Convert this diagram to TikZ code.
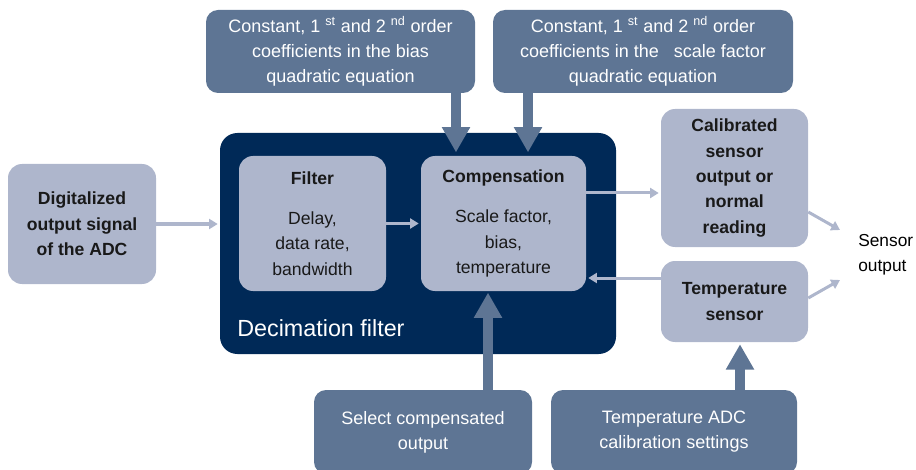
\documentclass[tikz,border=0pt]{standalone}
\usepackage{fontspec}
\setmainfont{Liberation Sans}
\usetikzlibrary{positioning}
\usetikzlibrary{arrows.meta}
\usetikzlibrary{calc}
\definecolor{navy}{RGB}{0,41,87}
\definecolor{slate}{RGB}{94,117,148}
\definecolor{pale}{RGB}{174,182,204}
\tikzset{
    boxs/.style = {rectangle, rounded corners=9pt, fill=slate, align=center, inner sep=0pt, text=white, font=\fontsize{13.5}{18.75}\selectfont},
    boxp/.style = {rectangle, rounded corners=10.5pt, fill=pale, align=center, inner sep=0pt, text=black!90, font=\fontsize{13.2}{19}\selectfont},
    boxn/.style = {rectangle, rounded corners=13pt, fill=navy, inner sep=0pt},
    labn/.style = {anchor=west, inner sep=0pt, text=white, font=\fontsize{17.5}{20}\selectfont},
    labo/.style = {anchor=west, inner sep=0pt, align=left, text=black, font=\fontsize{13}{18.75}\selectfont},
    edgep/.style = {-{Triangle[width=7.5pt,length=6.5pt]}, line width=2.25pt, pale}, % thin
    edges/.style = {-{Triangle[width=20pt,length=19pt]}, line width=7.5pt, slate}, % thick
}

\begin{document}
\begin{tikzpicture}[x=0.75pt,y=-0.75pt]
\useasboundingbox (0,0) rectangle (916,470);

\node[boxs, minimum width=201.75pt, minimum height=62.25pt] at (340.5,51.5) (bias) {Constant, 1 \textsuperscript{st} and 2 \textsuperscript{nd} order\\coefficients in the bias\\quadratic equation};
\node[boxs, minimum width=225pt, minimum height=62.25pt] at (643,51.5) (scalef) {Constant, 1 \textsuperscript{st} and 2 \textsuperscript{nd} order\\coefficients in the \ \ scale factor\\quadratic equation};

\node[boxn, minimum width=297pt, minimum height=165.75pt] at (418,243.5) (decim) {};
\node[labn] at (237,328) (decimlab) {Decimation filter};
\node[boxp, minimum width=110.25pt, minimum height=101.25pt] at (312.5,223.5) (filt) {\textbf{Filter}\\[11pt]Delay,\\data rate,\\bandwidth};
\node[boxp, minimum width=123.75pt, minimum height=101.25pt] at (503.5,223.5) (comp) {\textbf{Compensation}\\[11pt]Scale factor,\\bias,\\temperature};

\node[boxp, minimum width=111pt, minimum height=90pt] at (82,224) (digit) {\textbf{Digitalized}\\\textbf{output signal}\\\textbf{of the ADC}};
\node[boxp, minimum width=110.25pt, minimum height=103.5pt] at (734.5,178) (calib) {\textbf{Calibrated}\\\textbf{sensor}\\\textbf{output or}\\\textbf{normal}\\\textbf{reading}};
\node[boxp, minimum width=110.25pt, minimum height=60.75pt] at (734.5,301.5) (tsens) {\textbf{Temperature}\\\textbf{sensor}};
\node[labo] at (858,254.5) (sensout) {Sensor\\output};

\node[boxs, minimum width=163.5pt, minimum height=63pt] at (423,432) (select) {Select compensated\\output};
\node[boxs, minimum width=184.5pt, minimum height=63pt] at (674,432) (tadc) {Temperature ADC\\calibration settings};

\coordinate (biasin) at ($(comp.north)+(-47.5,0)$);
\coordinate (scalein) at ($(comp.north)+(24.5,0)$);
\coordinate (selin) at ($(comp.south)+(-15.5,0)$);
\coordinate (tadcin) at ($(tsens.south)+(5.5,0)$);
\coordinate (compout) at ($(comp.east)+(0,-30.5)$);
\coordinate (tsout) at ($(tsens.west)+(0,-23.5)$);
\coordinate (outa) at (840,230);
\coordinate (outb) at (840,280);

\draw[edges, shorten >=2.5pt] (bias.south -| biasin) -- (biasin);
\draw[edges, shorten >=2.5pt] (scalef.south -| scalein) -- (scalein);
\draw[edges, shorten >=1pt] (select.north -| selin) -- (selin);
\draw[edges, shorten >=1.5pt] (tadc.north -| tadcin) -- (tadcin);

\draw[edgep, shorten >=1.5pt] (digit.east) -- (digit.east -| decim.west);
\draw[edgep, shorten >=1.5pt] (filt.east) -- (comp.west);
\draw[edgep, shorten >=1.5pt] (compout) -- (compout -| calib.west);
\draw[edgep, shorten >=1.5pt] (tsout) -- (tsout -| comp.east);
\draw[edgep] ($(calib.east)+(0,34)$) -- (outa);
\draw[edgep] ($(tsens.east)+(0,-3.5)$) -- (outb);
\end{tikzpicture}
\end{document}
